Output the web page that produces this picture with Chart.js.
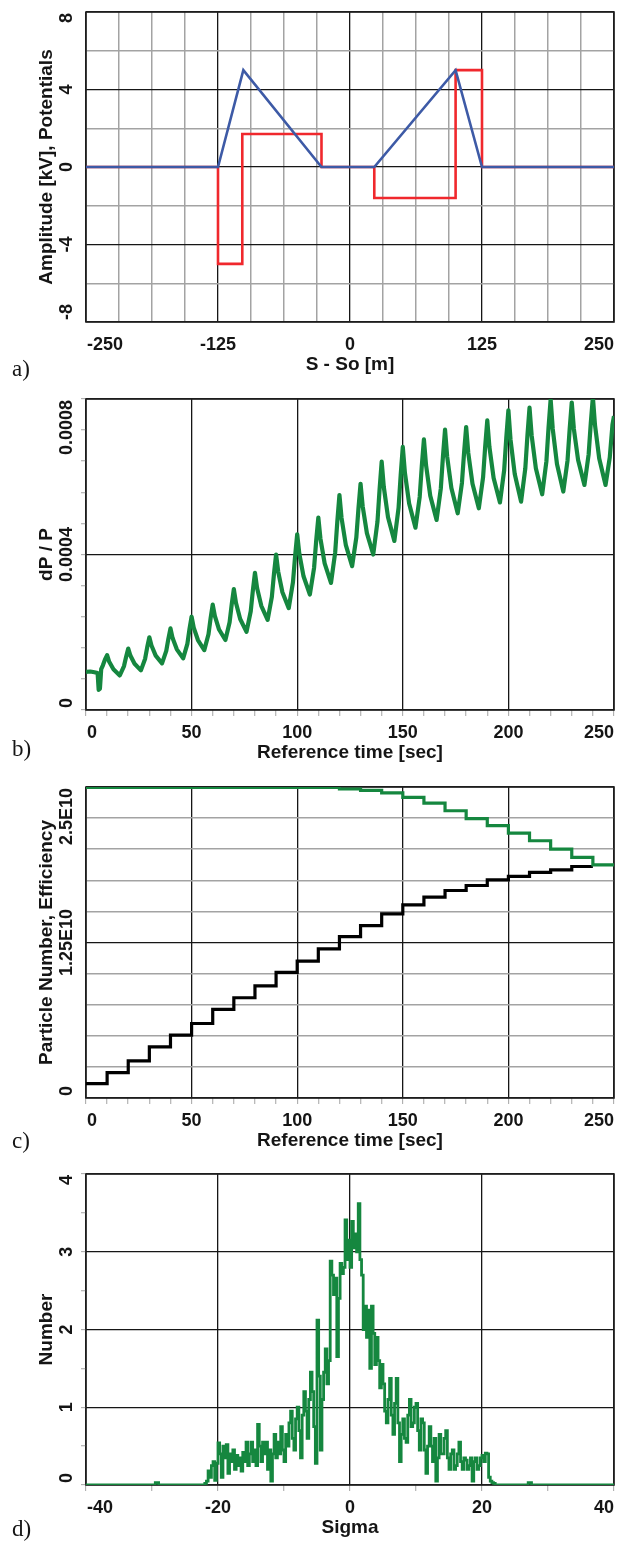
<!DOCTYPE html>
<html>
<head>
<meta charset="utf-8">
<script src="https://cdn.jsdelivr.net/npm/chart.js@4.4.1/dist/chart.umd.min.js"></script>
<style>
  html, body { margin: 0; padding: 0; background: #fff; overflow: hidden; }
  #page { position: relative; width: 629px; height: 1542px; }
  canvas { position: absolute; left: 0; }
</style>
</head>
<body>
<div id="page">
  <canvas id="chartA" width="629" height="388" style="top:0px"></canvas>
  <canvas id="chartB" width="629" height="388" style="top:388px"></canvas>
  <canvas id="chartC" width="629" height="388" style="top:776px"></canvas>
  <canvas id="chartD" width="629" height="378" style="top:1164px"></canvas>
</div>
<script>
/* ------------------ DATA ------------------ */
// a) potentials vs S - So
const aBlueS = [-250, -125, -101, -27, 23, 100, 125, 250];
const aBlueKV = [0, 0, 5, 0, 0, 5, 0, 0];
const aRedS = [-250, -125, -102, -27, 23, 100, 125, 250];
const aRedKV = [0, -5, 1.7, 0, -1.6, 5, 0, 0];
const aXGrid = [-250, -218.75, -187.5, -156.25, -125, -93.75, -62.5, -31.25, 0, 31.25, 62.5, 93.75, 125, 156.25, 187.5, 218.75, 250];
const aXLabels = [-250, -125, 0, 125, 250];
const aYGrid = [-8, -6, -4, -2, 0, 2, 4, 6, 8];
const aYLabels = [-8, -4, 0, 4, 8];

// b) dP/P vs reference time (values x 1e-4)
const bTime = [0, 2, 4, 5.5, 6, 6.6, 7.2, 8, 9, 10, 11, 13, 16,
  18, 19, 20, 21, 23, 26,
  28, 29, 30, 31, 33, 36,
  38, 39, 40, 41, 43, 46,
  48, 49, 50, 51, 53, 56,
  58, 59, 60, 61, 63, 66,
  68, 69, 70, 71, 73, 76,
  78, 79, 80, 81, 83, 86,
  88, 89, 90, 91, 93, 96,
  98, 99, 100, 101, 103, 106,
  108, 109, 110, 111, 113, 116,
  118, 119, 120, 121, 123, 126,
  128, 129, 130, 131, 133, 136,
  138, 139, 140, 141, 143, 146,
  148, 149, 150, 151, 153, 156,
  158, 159, 160, 161, 163, 166,
  168, 169, 170, 171, 173, 176,
  178, 179, 180, 181, 183, 186,
  188, 189, 190, 191, 193, 196,
  198, 199, 200, 201, 203, 206,
  208, 209, 210, 211, 213, 216,
  218, 219, 220, 221, 223, 226,
  228, 229, 230, 231, 233, 236,
  238, 239, 240, 241, 243, 246, 248, 249.3, 250];
const bDpE4 = [0.98, 0.99, 0.97, 0.95, 0.52, 0.55, 1.05, 1.15, 1.30, 1.41, 1.24, 1.05, 0.89,
  1.13, 1.37, 1.58, 1.40, 1.19, 1.02,
  1.32, 1.62, 1.87, 1.66, 1.40, 1.20,
  1.52, 1.83, 2.10, 1.85, 1.56, 1.33,
  1.70, 2.08, 2.40, 2.12, 1.80, 1.54,
  1.95, 2.36, 2.71, 2.42, 2.07, 1.80,
  2.26, 2.72, 3.11, 2.76, 2.34, 2.01,
  2.54, 3.07, 3.53, 3.14, 2.68, 2.32,
  2.91, 3.50, 4.00, 3.56, 3.03, 2.62,
  3.29, 3.95, 4.52, 4.02, 3.44, 2.97,
  3.66, 4.36, 4.95, 4.41, 3.77, 3.27,
  4.06, 4.85, 5.53, 4.94, 4.25, 3.70,
  4.44, 5.18, 5.82, 5.24, 4.55, 4.00,
  4.84, 5.67, 6.39, 5.74, 4.96, 4.35,
  5.20, 6.04, 6.77, 6.10, 5.31, 4.69,
  5.48, 6.28, 6.96, 6.30, 5.51, 4.89,
  5.70, 6.51, 7.21, 6.52, 5.71, 5.06,
  5.84, 6.61, 7.28, 6.61, 5.82, 5.19,
  5.98, 6.77, 7.45, 6.77, 5.97, 5.34,
  6.17, 7.00, 7.71, 6.96, 6.07, 5.36,
  6.21, 7.05, 7.78, 7.07, 6.22, 5.55,
  6.40, 7.26, 7.99, 7.23, 6.33, 5.62,
  6.42, 7.22, 7.91, 7.23, 6.43, 5.79,
  6.58, 7.37, 8.05, 7.33, 6.47, 5.79, 6.50, 7.35, 7.56];
const timeGrid = [0, 10, 20, 30, 40, 50, 60, 70, 80, 90, 100, 110, 120, 130, 140, 150, 160, 170, 180, 190, 200, 210, 220, 230, 240, 250];
const timeLabels = [0, 50, 100, 150, 200, 250];
const bYGrid = [0, 0.00008, 0.00016, 0.00024, 0.00032, 0.0004, 0.00048, 0.00056, 0.00064, 0.00072, 0.0008];
const bYLabels = [0, 0.0004, 0.0008];
const bYText = ['0', '0.0004', '0.0008'];

// c) particle number (black) and efficiency (green), E10 units, stepped
const cPartTime = [0, 10, 20, 30, 40, 50, 60, 70, 80, 90, 100, 110, 120, 130, 140, 150, 160, 170, 180, 190, 200, 210, 220, 230, 240];
const cPartE10 = [0.115, 0.204, 0.298, 0.411, 0.505, 0.599, 0.712, 0.806, 0.902, 1.010, 1.101, 1.198, 1.297, 1.386, 1.480, 1.552, 1.614, 1.668, 1.708, 1.754, 1.781, 1.813, 1.834, 1.861, 1.861];
const cEffTime = [0, 120, 130, 140, 150, 160, 170, 180, 190, 200, 210, 220, 230, 240, 250];
const cEffE10 = [2.497, 2.484, 2.473, 2.452, 2.417, 2.371, 2.309, 2.245, 2.189, 2.130, 2.068, 2.001, 1.934, 1.874, 1.874];
const cYGrid = [0, 0.25e10, 0.5e10, 0.75e10, 1e10, 1.25e10, 1.5e10, 1.75e10, 2e10, 2.25e10, 2.5e10];
const cYLabels = [0, 1.25e10, 2.5e10];
const cYText = ['0', '1.25E10', '2.5E10'];

// d) number vs sigma (histogram, bin left edges)
const dSigma = [-40, -29.5, -29,
  -22, -21.75, -21.5, -21.25, -21, -20.75, -20.5, -20.25,
  -20, -19.75, -19.5, -19.25, -19, -18.75, -18.5, -18.25,
  -18, -17.75, -17.5, -17.25, -17, -16.75, -16.5, -16.25,
  -16, -15.75, -15.5, -15.25, -15, -14.75, -14.5, -14.25,
  -14, -13.75, -13.5, -13.25, -13, -12.75, -12.5, -12.25,
  -12, -11.75, -11.5, -11.25, -11, -10.75, -10.5, -10.25,
  -10, -9.75, -9.5, -9.25, -9, -8.75, -8.5, -8.25,
  -8, -7.75, -7.5, -7.25, -7, -6.75, -6.5, -6.25,
  -6, -5.75, -5.5, -5.25, -5, -4.75, -4.5, -4.25,
  -4, -3.75, -3.5, -3.25, -3, -2.75, -2.5, -2.25,
  -2, -1.75, -1.5, -1.25, -1, -0.75, -0.5, -0.25,
  0, 0.25, 0.5, 0.75, 1, 1.25, 1.5, 1.75,
  2, 2.25, 2.5, 2.75, 3, 3.25, 3.5, 3.75,
  4, 4.25, 4.5, 4.75, 5, 5.25, 5.5, 5.75,
  6, 6.25, 6.5, 6.75, 7, 7.25, 7.5, 7.75,
  8, 8.25, 8.5, 8.75, 9, 9.25, 9.5, 9.75,
  10, 10.25, 10.5, 10.75, 11, 11.25, 11.5, 11.75,
  12, 12.25, 12.5, 12.75, 13, 13.25, 13.5, 13.75,
  14, 14.25, 14.5, 14.75, 15, 15.25, 15.5, 15.75,
  16, 16.25, 16.5, 16.75, 17, 17.25, 17.5, 17.75,
  18, 18.25, 18.5, 18.75, 19, 19.25, 19.5, 19.75,
  20, 20.25, 20.5, 20.75, 21, 21.25, 21.5, 21.75,
  22, 27, 27.5, 40];
const dNumber = [0, 0.03, 0,
  0.02, 0.05, 0.18, 0.10, 0.25, 0.30, 0.06, 0.28,
  0.54, 0.40, 0.10, 0.50, 0.35, 0.52, 0.15, 0.40,
  0.30, 0.45, 0.20, 0.38, 0.25, 0.35, 0.18, 0.42,
  0.30, 0.55, 0.25, 0.40, 0.55, 0.30, 0.45, 0.25,
  0.78, 0.50, 0.30, 0.55, 0.40, 0.55, 0.20, 0.45,
  0.05, 0.40, 0.65, 0.35, 0.55, 0.40, 0.75, 0.45,
  0.30, 0.65, 0.50, 0.80, 0.95, 0.60, 0.45, 0.85,
  1.00, 0.70, 0.35, 0.90, 1.20, 0.95, 0.60, 1.10,
  1.45, 1.20, 0.75, 0.28, 2.12, 1.40, 0.45, 1.10,
  1.45, 1.75, 1.30, 1.60, 2.88, 2.70, 2.45, 2.66,
  1.65, 2.40, 2.85, 2.72, 2.80, 3.41, 2.90, 3.15,
  2.80, 3.39, 3.05, 3.23, 3.00, 3.62, 2.90, 2.70,
  2.00, 2.30, 1.90, 2.25, 1.50, 2.30, 1.95, 1.55,
  1.90, 1.60, 1.25, 1.55, 1.30, 0.95, 0.80, 1.10,
  1.37, 0.90, 0.65, 1.05, 1.37, 0.80, 0.30, 0.65,
  0.85, 0.60, 0.55, 0.90, 1.10, 0.75, 0.80, 1.00,
  1.05, 0.70, 0.45, 0.85, 0.80, 0.45, 0.15, 0.50,
  0.75, 0.50, 0.30, 0.60, 0.05, 0.35, 0.65, 0.40,
  0.40, 0.60, 0.70, 0.35, 0.20, 0.40, 0.45, 0.20,
  0.25, 0.40, 0.55, 0.30, 0.20, 0.35, 0.32, 0.20,
  0.25, 0.35, 0.05, 0.30, 0.35, 0.20, 0.25, 0.35,
  0.38, 0.30, 0.41, 0.40, 0.10, 0.05, 0.03, 0.02,
  0, 0.03, 0, 0];
const dXGrid = [-40, -30, -20, -10, 0, 10, 20, 30, 40];
const dXLabels = [-40, -20, 0, 20, 40];
const dYGrid = [0, 0.5, 1, 1.5, 2, 2.5, 3, 3.5, 4];
const dYLabels = [0, 1, 2, 3, 4];

/* ------------------ STYLE ------------------ */
const GREEN = '#15873f';
const BLUE = '#3d5aa6';
const RED = '#f0282d';
const BLACK = '#161616';
const GRAY = '#a3a3a3';
const CLEAR = 'rgba(0,0,0,0)';
const TICK_FONT = 'bold 18px "Liberation Sans", Arial, sans-serif';
const TITLE_FONT = 'bold 19px "Liberation Sans", Arial, sans-serif';
const LETTER_FONT = '23px "Liberation Serif", "Times New Roman", serif';

function pts(xs, ys, k = 1) {
    return xs.map((x, i) => ({ x: x, y: ys[i] * k }));
}

function axis(spec, isX) {
    return {
        type: 'linear',
        min: spec.min,
        max: spec.max,
        afterBuildTicks: (scale) => { scale.ticks = spec.grid.map(v => ({ value: v })); },
        afterFit: (scale) => {
            if (isX) scale.height = spec.fitSize; else scale.width = spec.fitSize;
        },
        ticks: { display: false },
        border: { display: false },
        grid: {
            drawTicks: spec.drawTicks,
            tickLength: isX ? 6 : 5,
            tickWidth: 1,
            tickColor: GRAY,
            color: (c) => spec.labels.includes(c.tick.value) ? BLACK : (spec.minorGrid ? GRAY : CLEAR),
            lineWidth: (c) => spec.labels.includes(c.tick.value) ? 1.3 : 1.5
        }
    };
}

function makePanel(id, spec) {
    const canvas = document.getElementById(id);
    const H = canvas.height;
    spec.x.fitSize = H - spec.bottom;
    spec.y.fitSize = 86;

    const framePlugin = {
        id: 'frame' + id,
        beforeDatasetsDraw(chart) {
            const { ctx, chartArea: a } = chart;
            ctx.save();
            ctx.strokeStyle = '#202020';
            ctx.lineWidth = 1.6;
            ctx.strokeRect(a.left, a.top, a.right - a.left, a.bottom - a.top);
            ctx.restore();
        },
        afterDraw(chart) {
            const { ctx, chartArea: a, scales } = chart;
            ctx.save();
            ctx.fillStyle = '#151515';
            ctx.textBaseline = 'middle';

            // x tick labels, end labels pulled inside the frame
            ctx.font = TICK_FONT;
            const xl = spec.x.labels;
            xl.forEach((v, i) => {
                const px = scales.x.getPixelForValue(v);
                ctx.textAlign = i === 0 ? 'left' : (i === xl.length - 1 ? 'right' : 'center');
                ctx.fillText(spec.x.text ? spec.x.text[i] : String(v), px + (i === 0 ? 1 : 0), a.bottom + 23);
            });

            // y tick labels, rotated
            const yl = spec.y.labels;
            yl.forEach((v, i) => {
                const py = scales.y.getPixelForValue(v);
                ctx.save();
                ctx.translate(67, py + (i === 0 ? -2 : (i === yl.length - 1 ? 1 : 0)));
                ctx.rotate(-Math.PI / 2);
                ctx.textAlign = i === 0 ? 'left' : (i === yl.length - 1 ? 'right' : 'center');
                ctx.fillText(spec.y.text ? spec.y.text[i] : String(v), 0, 0);
                ctx.restore();
            });

            // axis titles
            ctx.font = TITLE_FONT;
            ctx.textAlign = 'center';
            ctx.fillText(spec.xTitle, (a.left + a.right) / 2, a.bottom + 43);
            ctx.save();
            ctx.translate(47, (a.top + a.bottom) / 2);
            ctx.rotate(-Math.PI / 2);
            ctx.fillText(spec.yTitle, 0, 0);
            ctx.restore();

            // panel letter
            ctx.font = LETTER_FONT;
            ctx.textAlign = 'left';
            ctx.fillText(spec.letter, 12, spec.letterY);
            ctx.restore();
        }
    };

    return new Chart(canvas, {
        type: 'line',
        data: { datasets: spec.datasets },
        options: {
            responsive: false,
            animation: false,
            devicePixelRatio: 1,
            layout: { padding: { left: 0, right: 15, top: spec.top, bottom: 0 } },
            elements: { point: { radius: 0 }, line: { tension: 0 } },
            plugins: { legend: { display: false }, tooltip: { enabled: false } },
            scales: { x: axis(spec.x, true), y: axis(spec.y, false) }
        },
        plugins: [framePlugin]
    });
}

/* ------------------ PANELS ------------------ */
makePanel('chartA', {
    top: 12, bottom: 322, letter: 'a)', letterY: 370,
    xTitle: 'S - So [m]', yTitle: 'Amplitude [kV], Potentials',
    x: { min: -250, max: 250, grid: aXGrid, labels: aXLabels, minorGrid: true, drawTicks: false },
    y: { min: -8, max: 8, grid: aYGrid, labels: aYLabels, minorGrid: true, drawTicks: false },
    datasets: [
        { data: pts(aBlueS, aBlueKV), borderColor: BLUE, borderWidth: 2.6 },
        { data: pts(aRedS, aRedKV), borderColor: RED, borderWidth: 2.6, stepped: true }
    ]
});

makePanel('chartB', {
    top: 11, bottom: 322, letter: 'b)', letterY: 362,
    xTitle: 'Reference time [sec]', yTitle: 'dP / P',
    x: { min: 0, max: 250, grid: timeGrid, labels: timeLabels, minorGrid: false, drawTicks: true },
    y: { min: 0, max: 0.0008, grid: bYGrid, labels: bYLabels, text: bYText, minorGrid: false, drawTicks: true },
    datasets: [
        { data: pts(bTime, bDpE4, 1e-4), borderColor: GREEN, borderWidth: 4.2, borderJoinStyle: 'round' }
    ]
});

makePanel('chartC', {
    top: 11, bottom: 322, letter: 'c)', letterY: 366,
    xTitle: 'Reference time [sec]', yTitle: 'Particle Number, Efficiency',
    x: { min: 0, max: 250, grid: timeGrid, labels: timeLabels, minorGrid: false, drawTicks: true },
    y: { min: 0, max: 2.5e10, grid: cYGrid, labels: cYLabels, text: cYText, minorGrid: true, drawTicks: false },
    datasets: [
        { data: pts(cEffTime, cEffE10, 1e10), borderColor: GREEN, borderWidth: 3.2, stepped: true },
        { data: pts(cPartTime, cPartE10, 1e10), borderColor: '#000', borderWidth: 3.2, stepped: true }
    ]
});

makePanel('chartD', {
    top: 10, bottom: 321, letter: 'd)', letterY: 366,
    xTitle: 'Sigma', yTitle: 'Number',
    x: { min: -40, max: 40, grid: dXGrid, labels: dXLabels, minorGrid: false, drawTicks: true },
    y: { min: 0, max: 4, grid: dYGrid, labels: dYLabels, minorGrid: false, drawTicks: true },
    datasets: [
        { data: pts(dSigma, dNumber), borderColor: GREEN, borderWidth: 2.8, stepped: true }
    ]
});
</script>
</body>
</html>
